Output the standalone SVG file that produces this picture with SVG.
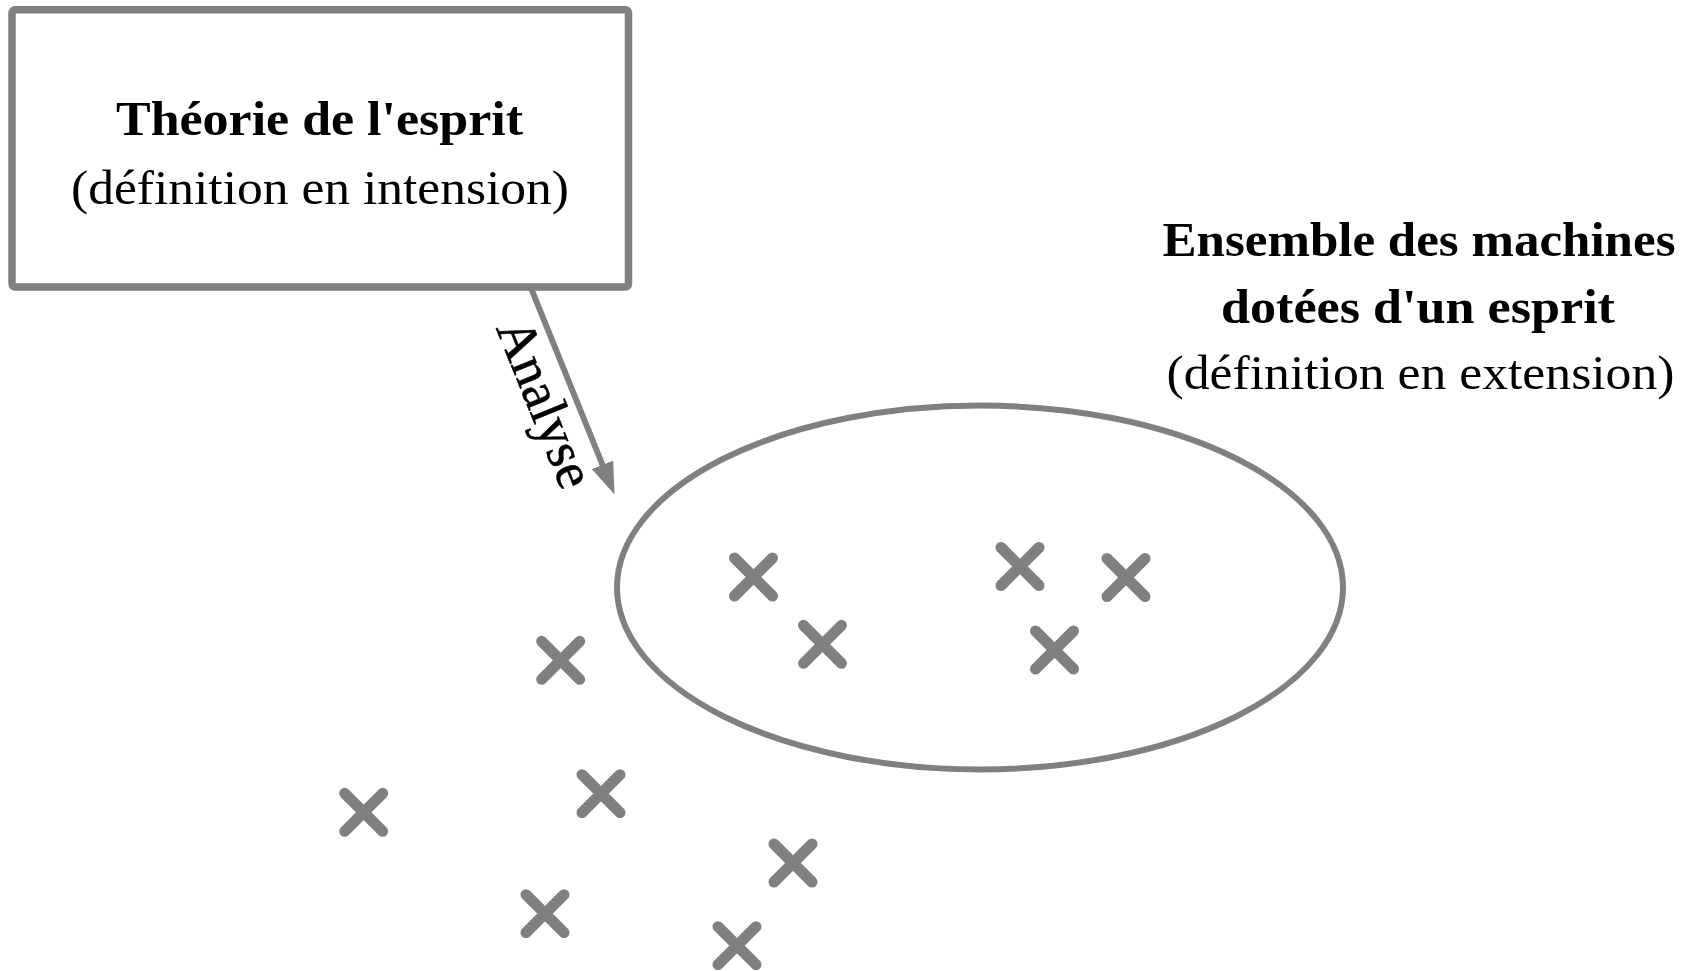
<svg xmlns="http://www.w3.org/2000/svg" xmlns:xlink="http://www.w3.org/1999/xlink" width="1683" height="971" viewBox="0 0 1683 971">
  <style>
    .t { font-family: "Liberation Serif", "Times New Roman", serif; font-size: 49px; fill: #000; text-anchor: middle; }
    .b { font-weight: bold; }
    .lbl { font-size: 54px; }
    .shape { fill: none; stroke: #808080; }
    .cross { stroke: #808080; stroke-width: 11; stroke-linecap: round; fill: none; }
  </style>
  <defs>
    <marker id="arrowhead" markerUnits="userSpaceOnUse" viewBox="0 -11.5 32 23" refX="4" refY="0" markerWidth="32" markerHeight="23" orient="auto">
      <path d="M0,-11.5 L32,0 L0,11.5 z" fill="#808080"/>
    </marker>
    <g id="xmark">
      <line class="cross" x1="-19" y1="-19" x2="19" y2="19"/>
      <line class="cross" x1="-19" y1="19" x2="19" y2="-19"/>
    </g>
  </defs>
  <rect width="1683" height="971" fill="#fff"/>

  <g id="theorie">
    <rect class="shape" x="12" y="9.7" width="616.5" height="277.3" rx="3" stroke-width="7.5" fill="#fff"/>
    <text class="t b" x="319.5" y="135" textLength="407" lengthAdjust="spacingAndGlyphs">Théorie de l'esprit</text>
    <text class="t" x="320" y="204" textLength="498" lengthAdjust="spacingAndGlyphs">(définition en intension)</text>
  </g>

  <g id="ensemble">
    <ellipse class="shape" cx="980" cy="587.5" rx="363" ry="182" stroke-width="6"/>
    <text class="t b" x="1419" y="256" textLength="513" lengthAdjust="spacingAndGlyphs">Ensemble des machines</text>
    <text class="t b" x="1418" y="323" textLength="394" lengthAdjust="spacingAndGlyphs">dotées d'un esprit</text>
    <text class="t" x="1420.5" y="389" textLength="508" lengthAdjust="spacingAndGlyphs">(définition en extension)</text>
  </g>

  <g id="machines">
    <use id="m1" xlink:href="#xmark" x="753.5" y="577"/>
    <use id="m2" xlink:href="#xmark" x="822.5" y="644.3"/>
    <use id="m3" xlink:href="#xmark" x="1020" y="566.5"/>
    <use id="m4" xlink:href="#xmark" x="1126" y="577.5"/>
    <use id="m5" xlink:href="#xmark" x="1054.5" y="650"/>
    <use id="m6" xlink:href="#xmark" x="560.7" y="660.3"/>
    <use id="m7" xlink:href="#xmark" x="363.7" y="812.3"/>
    <use id="m8" xlink:href="#xmark" x="601" y="793.7"/>
    <use id="m9" xlink:href="#xmark" x="793" y="863"/>
    <use id="m10" xlink:href="#xmark" x="545" y="913.7"/>
    <use id="m11" xlink:href="#xmark" x="737" y="945.7"/>
  </g>

  <g id="connectors">
    <line class="shape" x1="531" y1="288" x2="604" y2="468.5" stroke-width="6" marker-end="url(#arrowhead)"/>
    <text class="t lbl" x="0" y="0" stroke="#000" stroke-width="0.6" transform="translate(529,410) rotate(68)">Analyse</text>
  </g>
</svg>
